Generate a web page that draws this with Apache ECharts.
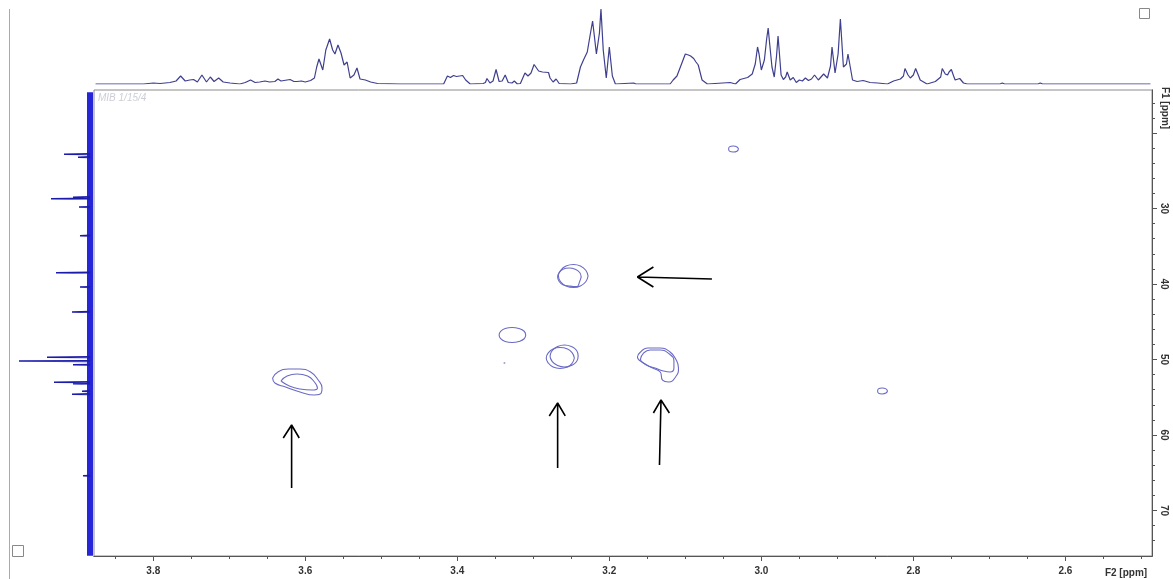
<!DOCTYPE html>
<html><head><meta charset="utf-8">
<script src="https://cdn.jsdelivr.net/npm/echarts@6/dist/echarts.min.js"></script>
<style>html,body{margin:0;padding:0;background:#fff}#c{width:1173px;height:579px}</style>
</head><body><div id="c"></div>
<script>
// ---- F2 (1H) projection: [ppm, intensity] ----
const h1Spectrum = [
[3.876,0],[3.813,0],[3.800,1],[3.791,0.5],[3.778,1.5],[3.770,3],[3.764,8],[3.758,3],[3.752,4],[3.747,4.5],[3.742,2],[3.736,9],[3.730,2],[3.725,7],[3.720,2.5],[3.714,6],[3.708,2],[3.699,1],[3.686,0],[3.679,1.5],[3.672,4],[3.666,1.5],[3.660,2],[3.653,3],[3.647,2],[3.640,2.5],[3.636,5],[3.632,3],[3.628,3.5],[3.624,4],[3.620,4.5],[3.615,2.5],[3.611,2.5],[3.605,3],[3.600,2],[3.593,3.5],[3.588,6],[3.585,17],[3.582,25],[3.577,14],[3.573,34],[3.568,45],[3.564,34],[3.561,30],[3.557,39],[3.553,31],[3.549,19],[3.545,22],[3.541,6],[3.536,9],[3.532,16],[3.528,5],[3.521,4],[3.514,2],[3.505,0.5],[3.475,0],
[3.418,0],[3.413,8],[3.411,7],[3.409,6.5],[3.405,8.5],[3.401,7.5],[3.399,8],[3.393,8.5],[3.389,4],[3.383,0],[3.366,0.5],[3.363,1.5],[3.361,5.5],[3.357,1],[3.353,3],[3.349,14.5],[3.345,2.5],[3.341,3],[3.337,9],[3.333,1.5],[3.328,1],[3.325,3],[3.321,0],[3.317,0.5],[3.311,11],[3.307,8],[3.303,11],[3.299,19.5],[3.293,13],[3.288,12],[3.286,10],[3.280,11.5],[3.278,6],[3.274,2],[3.270,5],[3.266,0.5],[3.251,0],[3.243,1],[3.238,17],[3.234,24],[3.229,32],[3.225,50],[3.222,63],[3.220,50],[3.217,30],[3.213,51],[3.211,75],[3.208,34],[3.204,6],[3.200,37],[3.196,8],[3.192,0],[3.168,1],[3.165,0],
[3.120,0],[3.116,4],[3.111,8],[3.107,16],[3.104,22],[3.100,30],[3.096,29],[3.093,28],[3.089,25.5],[3.086,22],[3.083,19],[3.078,4],[3.071,0],[3.041,1.5],[3.034,0],[3.028,4.5],[3.018,6.5],[3.012,10],[3.008,20],[3.005,37],[3.003,30],[3.000,14],[2.996,24],[2.993,45],[2.991,56],[2.989,40],[2.986,17],[2.983,7],[2.980,28],[2.978,48],[2.974,9],[2.971,4.5],[2.968,7],[2.966,12],[2.962,4],[2.958,6.5],[2.954,1.5],[2.950,4],
[2.946,3],[2.942,6],[2.938,3.5],[2.934,5],[2.930,9],[2.925,4],[2.918,10],[2.913,6],[2.909,18],[2.907,37],[2.903,11],[2.899,30],[2.896,65],[2.892,17],[2.888,20],[2.886,30],[2.880,4],[2.874,2.5],[2.866,3.5],[2.857,1.5],[2.847,1],[2.834,0],[2.826,3],[2.817,5],[2.813,8],[2.811,15.5],[2.807,9],[2.804,6],[2.800,9],[2.797,15.5],[2.793,8],[2.791,4],[2.782,0],[2.771,2.5],[2.764,7],[2.762,15.5],[2.758,10],[2.755,9],[2.753,12],[2.750,14.5],[2.747,8],[2.745,4],[2.739,5.5],[2.734,1],[2.729,0],[2.686,0],[2.683,1],[2.680,0],[2.636,0],[2.633,1],[2.630,0],[2.488,0]
];

// ---- F1 (13C) projection: [ppm, peak height] and noisy baseline extent ----
const c13Peaks = [[22.8,26],[23.2,12],[28.5,17],[28.7,39],[29.8,11],[33.6,10],[38.5,34],[40.4,10],[43.7,18],[49.7,43],[50.2,71],[50.7,17],[53.0,36],[53.2,17],[54.2,8],[54.6,18],[65.4,7]];
const c13Baseline = [[0,14.6],[0,76.0]];

// ---- HSQC contours: [F2 ppm, F1 ppm] ----
const contourA1 = [[3.237,39.07],[3.239,39.67],[3.243,40.35],[3.253,40.26],[3.261,40.10],[3.266,39.67],[3.268,39.07],[3.266,38.48],[3.261,38.04],[3.253,37.88],[3.245,38.04],[3.239,38.48],[3.237,39.07]];
const contourA2 = [[3.228,38.94],[3.231,39.70],[3.238,40.26],[3.247,40.46],[3.257,40.26],[3.264,39.70],[3.267,38.94],[3.264,38.18],[3.257,37.62],[3.247,37.42],[3.238,37.62],[3.231,38.18],[3.228,38.94]];
const contourB = [[3.310,46.75],[3.312,47.25],[3.319,47.61],[3.328,47.74],[3.337,47.61],[3.343,47.25],[3.345,46.75],[3.343,46.26],[3.337,45.89],[3.328,45.76],[3.319,45.89],[3.312,46.26],[3.310,46.75]];
const contourC1 = [[3.246,49.80],[3.249,50.50],[3.255,51.00],[3.265,51.19],[3.274,51.00],[3.280,50.50],[3.283,49.80],[3.280,49.10],[3.274,48.60],[3.265,48.41],[3.255,48.60],[3.249,49.10],[3.246,49.80]];
const contourC2 = [[3.241,49.54],[3.243,50.27],[3.250,50.80],[3.259,51.00],[3.268,50.80],[3.275,50.27],[3.278,49.54],[3.275,48.81],[3.268,48.28],[3.259,48.08],[3.250,48.28],[3.243,48.81],[3.241,49.54]];
const contourD1 = [[3.159,49.01],[3.149,48.48],[3.133,48.48],[3.120,49.01],[3.112,50.07],[3.109,51.13],[3.112,52.19],[3.122,52.98],[3.130,52.72],[3.133,51.66],[3.143,51.13],[3.155,50.46],[3.163,49.67],[3.159,49.01]];
const contourD2 = [[3.155,49.14],[3.146,48.74],[3.133,48.74],[3.121,49.27],[3.115,50.20],[3.115,51.13],[3.120,51.66],[3.129,51.52],[3.140,51.13],[3.151,50.73],[3.159,49.93],[3.155,49.14]];
const contourE1 = [[3.643,52.45],[3.636,51.66],[3.622,51.26],[3.607,51.26],[3.593,51.66],[3.583,52.72],[3.578,53.77],[3.579,54.44],[3.588,54.70],[3.607,54.30],[3.626,53.64],[3.640,53.11],[3.643,52.45]];
const contourE2 = [[3.632,52.85],[3.624,52.19],[3.611,51.92],[3.597,52.19],[3.588,52.98],[3.584,53.77],[3.591,54.04],[3.607,53.91],[3.621,53.51],[3.632,52.85]];
const contourF = [[3.030,22.12],[3.032,22.40],[3.037,22.52],[3.042,22.40],[3.043,22.12],[3.042,21.84],[3.037,21.72],[3.032,21.84],[3.030,22.12]];
const contourG = [[2.834,54.17],[2.836,54.45],[2.841,54.57],[2.846,54.45],[2.847,54.17],[2.846,53.89],[2.841,53.77],[2.836,53.89],[2.834,54.17]];
const specks = [[3.338,50.46]];

// ---- annotation arrows: tail, tip, head-left, head-right ----
const arrowLeft = [[3.065,39.34],[3.163,39.07],[3.142,37.75],[3.142,40.40]];
const arrowUp1 = [[3.618,67.02],[3.618,58.68],[3.629,60.40],[3.608,60.40]];
const arrowUp2 = [[3.268,64.37],[3.268,55.76],[3.279,57.48],[3.258,57.48]];
const arrowUp3 = [[3.134,63.97],[3.132,55.36],[3.142,57.09],[3.121,57.09]];

// ---- tick labels ----
const xTickLabels = [3.8,3.6,3.4,3.2,3.0,2.8,2.6];
const yTickLabels = [30,40,50,60,70];
const yMajorTicks = [20,30,40,50,60,70];

const X_MIN = 2.486, X_MAX = 3.878, Y_MIN = 14.3, Y_MAX = 76.03;
const xMinor = []; for (let i = 50; i <= 385; i += 5) xMinor.push(i / 100);
const yMinor = []; for (let v = 16; v <= 74; v += 2) yMinor.push(v);

const peakSeries = [];
c13Peaks.forEach(p => { peakSeries.push([0, p[0] - 0.05], [p[1], p[0]], [0, p[0] + 0.05], null); });
function arrowData(a) { return [a[0], a[1], null, a[2], a[1], a[3]]; }
const arrowSeries = [].concat(arrowData(arrowLeft), [null], arrowData(arrowUp1), [null], arrowData(arrowUp2), [null], arrowData(arrowUp3));

const labelFont = {fontSize: 10, fontWeight: 'bold', color: '#333', fontFamily: 'Liberation Sans'};
const contourStyle = {color: '#6a6ac6', width: 1.1};
const contours = [contourA1, contourA2, contourB, contourC1, contourC2, contourD1, contourD2, contourE1, contourE2, contourF, contourG];

const chart = echarts.init(document.getElementById('c'), null, {renderer: 'canvas'});
chart.setOption({
  animation: false,
  backgroundColor: '#fff',
  grid: [
    {left: 94, top: 90, width: 1058, height: 466, show: true, borderColor: '#8c8c8c', borderWidth: 1, containLabel: false},
    {left: 94, top: 0, width: 1058, height: 84, containLabel: false},
    {left: 0, top: 90, width: 94, height: 466, containLabel: false}
  ],
  xAxis: [
    {gridIndex: 0, type: 'value', min: X_MIN, max: X_MAX, inverse: true, position: 'bottom',
     axisLine: {show: true, lineStyle: {color: '#555'}}, splitLine: {show: false},
     axisTick: {show: true, length: 3, customValues: xMinor, lineStyle: {color: '#555'}}, axisLabel: {show: false}},
    {gridIndex: 0, type: 'value', min: X_MIN, max: X_MAX, inverse: true, position: 'bottom',
     axisLine: {show: true, lineStyle: {color: '#555'}}, splitLine: {show: false},
     axisTick: {show: true, length: 5, customValues: xTickLabels, lineStyle: {color: '#555'}},
     axisLabel: Object.assign({show: true, margin: 10, customValues: xTickLabels, formatter: v => Number(v).toFixed(1)}, labelFont)},
    {gridIndex: 1, type: 'value', min: X_MIN, max: X_MAX, inverse: true, show: false},
    {gridIndex: 2, type: 'value', min: -4, max: 90, inverse: true, show: false}
  ],
  yAxis: [
    {gridIndex: 0, type: 'value', min: Y_MIN, max: Y_MAX, inverse: true, position: 'right',
     axisLine: {show: true, lineStyle: {color: '#555'}}, splitLine: {show: false},
     axisTick: {show: true, length: 3, customValues: yMinor, lineStyle: {color: '#555'}}, axisLabel: {show: false}},
    {gridIndex: 0, type: 'value', min: Y_MIN, max: Y_MAX, inverse: true, position: 'right',
     axisLine: {show: true, lineStyle: {color: '#555'}}, splitLine: {show: false},
     axisTick: {show: true, length: 5, customValues: yMajorTicks, lineStyle: {color: '#555'}},
     axisLabel: Object.assign({show: true, margin: 7, rotate: -90, customValues: yTickLabels}, labelFont)},
    {gridIndex: 1, type: 'value', min: 0, max: 84, show: false},
    {gridIndex: 2, type: 'value', min: Y_MIN, max: Y_MAX, inverse: true, show: false}
  ],
  graphic: [
    {type: 'line', shape: {x1: 9.5, y1: 9, x2: 9.5, y2: 579}, style: {stroke: '#aaa', lineWidth: 1}},
    {type: 'rect', shape: {x: 12.5, y: 545.5, width: 11, height: 11}, style: {fill: 'none', stroke: '#888', lineWidth: 1}},
    {type: 'rect', shape: {x: 1139.5, y: 8.5, width: 10, height: 10}, style: {fill: 'none', stroke: '#888', lineWidth: 1}},
    {type: 'text', x: 98, y: 93, style: {text: 'MIB 1/15/4', fill: '#cdcdd8', font: 'italic 10px "Liberation Sans"'}},
    {type: 'text', x: 1165, y: 108, rotation: -Math.PI / 2, style: {text: 'F1 [ppm]', fill: '#333', font: 'bold 10px "Liberation Sans"', align: 'center', verticalAlign: 'middle'}},
    {type: 'text', x: 1126, y: 573, style: {text: 'F2 [ppm]', fill: '#333', font: 'bold 10px "Liberation Sans"', align: 'center', verticalAlign: 'middle'}}
  ],
  series: [
    {type: 'line', xAxisIndex: 2, yAxisIndex: 2, data: h1Spectrum, showSymbol: false, lineStyle: {color: '#3f3f8f', width: 1.2}, silent: true},
    {type: 'line', xAxisIndex: 3, yAxisIndex: 3, data: c13Baseline, showSymbol: false, lineStyle: {color: '#2626d8', width: 6}, silent: true},
    {type: 'line', xAxisIndex: 3, yAxisIndex: 3, data: peakSeries, showSymbol: false, connectNulls: false, lineStyle: {color: '#1c1caa', width: 1.5}, silent: true},
  ].concat(contours.map(c => ({type: 'line', xAxisIndex: 0, yAxisIndex: 0, data: c, smooth: true, showSymbol: false, lineStyle: contourStyle, silent: true})))
  .concat([
    {type: 'scatter', xAxisIndex: 0, yAxisIndex: 0, data: specks, symbolSize: 2, itemStyle: {color: '#8a8ac8'}, silent: true},
    {type: 'line', xAxisIndex: 0, yAxisIndex: 0, data: arrowSeries, showSymbol: false, connectNulls: false, lineStyle: {color: '#000', width: 1.6}, silent: true}
  ])
});
</script></body></html>
